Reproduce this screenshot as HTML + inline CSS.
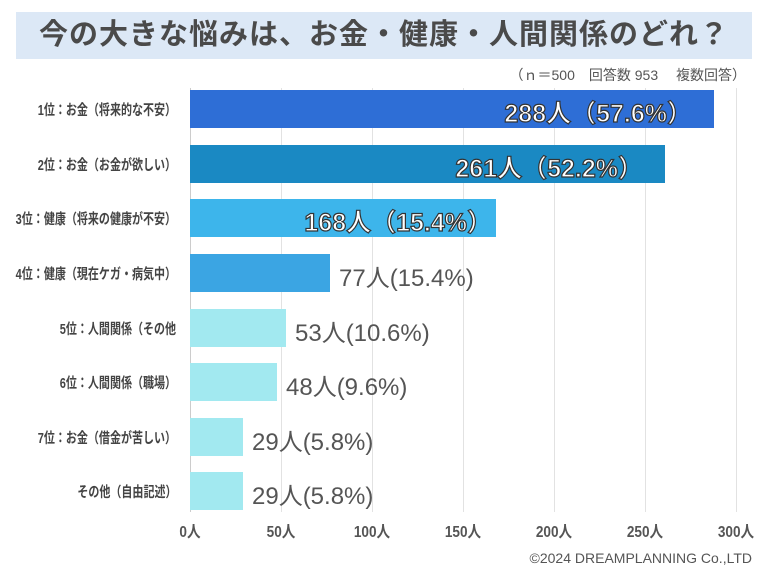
<!DOCTYPE html><html><head><meta charset="utf-8"><style>
body{margin:0;width:768px;height:576px;background:#fff;position:relative;overflow:hidden;font-family:"Liberation Sans","Noto Sans CJK JP",sans-serif}
.a{position:absolute}
.t{left:16px;top:12px;width:736px;height:47px;background:#dce8f6;color:#4a4a4a;font-size:29px;font-weight:bold;line-height:47px;text-align:center;letter-spacing:1px}
.g{top:88px;width:1px;height:424px;background:#e2e2e2}
.b{left:190px;height:38px}
.l{right:592px;font-size:14.5px;font-weight:bold;color:#444;white-space:nowrap;transform:scaleX(.76);transform-origin:right center}
.v{font-size:24px;color:#555;white-space:nowrap}
.w{color:#fff;-webkit-text-stroke:1.2px #333;font-weight:bold;font-size:25px}
.x{top:518px;font-size:16px;font-weight:bold;color:#555;width:60px;text-align:center;transform:scaleX(.85)}
</style></head><body>
<div class="a t">今の大きな悩みは、お金・健康・人間関係のどれ？</div>
<div class="a" style="right:22px;top:65px;font-size:14px;color:#555">（ｎ＝500　回答数 953　 複数回答）</div>
<div class="a g" style="left:190px;background:#ccc"></div>
<div class="a g" style="left:281px"></div><div class="a g" style="left:372px"></div><div class="a g" style="left:463px"></div><div class="a g" style="left:554px"></div><div class="a g" style="left:645px"></div><div class="a g" style="left:736px"></div>
<div class="a b" style="top:90px;width:524px;background:#2e6ed6"></div>
<div class="a b" style="top:145px;width:475px;background:#1a89c3"></div>
<div class="a b" style="top:199px;width:306px;background:#3db5eb"></div>
<div class="a b" style="top:254px;width:140px;background:#3ba5e3"></div>
<div class="a b" style="top:309px;width:96px;background:#a2e9f0"></div>
<div class="a b" style="top:363px;width:87px;background:#a2e9f0"></div>
<div class="a b" style="top:418px;width:53px;background:#a2e9f0"></div>
<div class="a b" style="top:472px;width:53px;background:#a2e9f0"></div>
<div class="a l" style="top:99px">1位：お金（将来的な不安）</div>
<div class="a l" style="top:154px">2位：お金（お金が欲しい）</div>
<div class="a l" style="top:208px">3位：健康（将来の健康が不安）</div>
<div class="a l" style="top:263px">4位：健康（現在ケガ・病気中）</div>
<div class="a l" style="top:318px">5位：人間関係（その他</div>
<div class="a l" style="top:372px">6位：人間関係（職場）</div>
<div class="a l" style="top:427px">7位：お金（借金が苦しい）</div>
<div class="a l" style="top:481px">その他（自由記述）</div>
<div class="a v w" style="right:76px;top:94px">288人（57.6%）</div>
<div class="a v w" style="right:125px;top:149px">261人（52.2%）</div>
<div class="a v w" style="right:276px;top:203px">168人（15.4%）</div>
<div class="a v" style="left:339px;top:258px">77人(15.4%)</div>
<div class="a v" style="left:295px;top:313px">53人(10.6%)</div>
<div class="a v" style="left:286px;top:367px">48人(9.6%)</div>
<div class="a v" style="left:252px;top:422px">29人(5.8%)</div>
<div class="a v" style="left:252px;top:476px">29人(5.8%)</div>
<div class="a x" style="left:160px">0人</div><div class="a x" style="left:251px">50人</div><div class="a x" style="left:342px">100人</div><div class="a x" style="left:433px">150人</div><div class="a x" style="left:524px">200人</div><div class="a x" style="left:615px">250人</div><div class="a x" style="left:706px">300人</div>
<div class="a" style="right:16px;top:550px;font-size:14px;color:#555">©2024 DREAMPLANNING Co.,LTD</div>
</body></html>
